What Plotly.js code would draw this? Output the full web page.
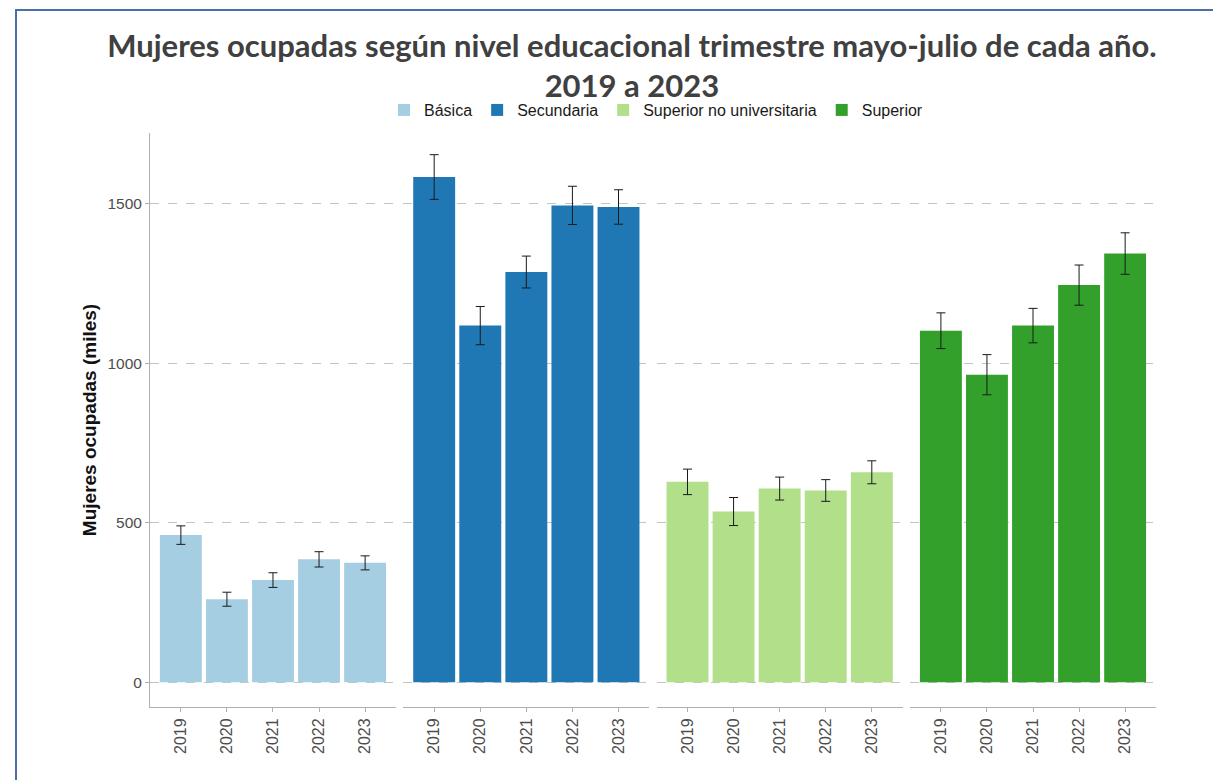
<!DOCTYPE html>
<html>
<head>
<meta charset="utf-8">
<script src="https://cdn.plot.ly/plotly-3.0.1.min.js"></script>
<style>
  html, body { margin: 0; padding: 0; background: #ffffff; }
  #chart { width: 1213px; height: 780px; }
  #frame { position: absolute; left: 15px; top: 9px; width: 1210px; height: 790px;
           border-left: 2px solid #4a6fa8; border-top: 2px solid #4a6fa8; pointer-events: none; }
</style>
</head>
<body>
<div id="chart"></div>
<div id="frame"></div>
<script>
const years = ['2019', '2020', '2021', '2022', '2023'];
const levels = ['Básica', 'Secundaria', 'Superior no universitaria', 'Superior'];
const colors = ['#a6cee3', '#1f78b4', '#b2df8a', '#33a02c'];

const basica = [461, 260, 320, 385, 374];
const basicaErr = [29, 22, 23, 24, 22];
const secundaria = [1584, 1118, 1286, 1495, 1490];
const secundariaErr = [70, 60, 50, 60, 54];
const superiorNoUniv = [628, 535, 607, 601, 658];
const superiorNoUnivErr = [40, 44, 36, 34, 36];
const superior = [1102, 964, 1118, 1245, 1344];
const superiorErr = [56, 63, 54, 63, 65];

const values = [basica, secundaria, superiorNoUniv, superior];
const errors = [basicaErr, secundariaErr, superiorNoUnivErr, superiorErr];
const yTicks = [0, 500, 1000, 1500];

const axisSuffix = ['', '2', '3', '4'];
const traces = levels.map((name, i) => ({
  type: 'bar',
  name: name,
  x: years,
  y: values[i],
  xaxis: 'x' + axisSuffix[i],
  yaxis: 'y',
  marker: { color: colors[i], line: { width: 0 } },
  error_y: { type: 'data', array: errors[i], visible: true, color: '#1a1a1a', thickness: 1, width: 4.5 },
  hoverinfo: 'x+y+name'
}));

const domains = [[0, 0.2445], [0.2518, 0.4964], [0.5036, 0.7482], [0.7555, 1]];
const fontAxis = 'Liberation Sans, Arial, sans-serif';

const layout = {
  width: 1213,
  height: 780,
  paper_bgcolor: '#ffffff',
  plot_bgcolor: '#ffffff',
  margin: { l: 150, r: 57, t: 133, b: 73 },
  bargap: 0.09,
  showlegend: true,
  legend: {
    orientation: 'h',
    x: 0.503, xanchor: 'center',
    y: 1.040, yanchor: 'middle',
    font: { family: fontAxis, size: 16, color: '#1a1a1a' },
    bgcolor: 'rgba(0,0,0,0)',
    itemwidth: 30,
    traceorder: 'normal'
  },
  title: {
    text: '<b>Mujeres ocupadas según nivel educacional trimestre mayo-julio de cada año.<br>2019 a 2023</b>',
    font: { family: 'Lato, Open Sans, sans-serif', size: 31, color: '#404040' },
    x: 0.521, xanchor: 'center', xref: 'container',
    y: 0.927, yanchor: 'top', yref: 'container'
  },
  yaxis: {
    range: [-78, 1722],
    tickvals: yTicks,
    ticktext: yTicks.map(String),
    showgrid: true,
    gridcolor: '#c4c4c4',
    griddash: 'dash',
    gridwidth: 1,
    zeroline: false,
    showline: true,
    linecolor: '#b0b0b0',
    linewidth: 1,
    ticks: 'outside',
    ticklen: 4,
    tickcolor: '#b0b0b0',
    tickfont: { family: fontAxis, size: 15.5, color: '#4d4d4d' },
    anchor: 'x',
    title: {
      text: '<b>Mujeres ocupadas (miles)</b>',
      font: { family: fontAxis, size: 19, color: '#111111' },
      standoff: 5
    }
  }
};

domains.forEach((d, i) => {
  layout['xaxis' + axisSuffix[i]] = {
    domain: d,
    type: 'category',
    range: [-0.67, 4.67],
    anchor: 'y',
    showgrid: false,
    zeroline: false,
    showline: true,
    linecolor: '#b0b0b0',
    linewidth: 1,
    ticks: 'outside',
    ticklen: 4,
    tickcolor: '#b0b0b0',
    tickangle: -90,
    tickfont: { family: fontAxis, size: 16, color: '#4d4d4d' }
  };
});

Plotly.newPlot('chart', traces, layout, { displayModeBar: false, responsive: false });
</script>
</body>
</html>
